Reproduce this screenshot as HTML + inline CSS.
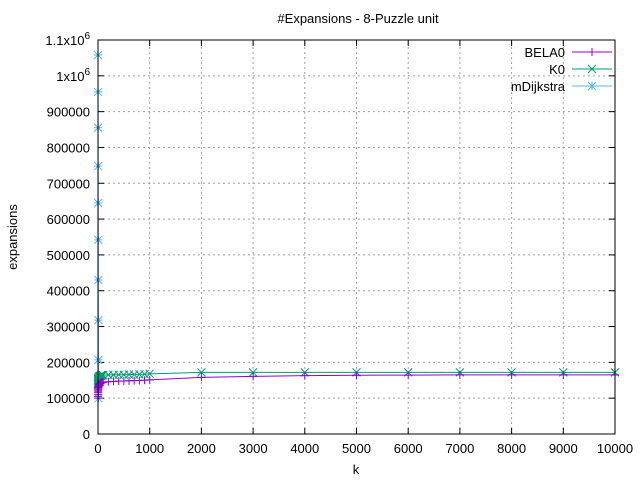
<!DOCTYPE html>
<html><head><meta charset="utf-8"><style>
body{margin:0;background:#fff;}
svg{font-family:"Liberation Sans",sans-serif;font-size:13px;}
</style></head><body>
<svg id="c" width="640" height="480"></svg>
<script>
const kVals=[0,1,2,3,4,5,6,7,8,9,10,20,30,40,50,60,70,80,90,100,200,300,400,500,600,700,800,900,1000,2000,3000,4000,5000,6000,7000,8000,9000,10000];
const bela0=[100000,105000,110000,115000,118000,122000,125000,128000,130000,132000,134000,138000,140000,141000,142000,143000,143500,144000,144500,145000,146000,147000,147500,148000,148500,149000,149500,150000,151000,158000,161000,163000,164000,164500,165000,165000,165000,165000];
const k0=[138000,140000,142000,145000,148000,150000,152000,154000,155000,156000,157000,160000,161000,162000,162500,163000,163500,164000,164000,164500,165000,165000,165500,165500,166000,166000,166500,167000,168000,172000,172000,172000,172000,172000,172000,172000,172000,172000];
const mdK=[0,1,2,3,4,5,6,7,8,9];
const mdVals=[1058000,955000,855000,748000,645000,542000,430000,318000,207000,100000];
const yTicks=[0,100000,200000,300000,400000,500000,600000,700000,800000,900000,1000000,1100000];
const xTicks=[0,1000,2000,3000,4000,5000,6000,7000,8000,9000,10000];
const X0=98,X1=615,Y0=434,Y1=40;
const sx=v=>X0+(v-0)/10000*(X1-X0);
const sy=v=>Y0-v/1100000*(Y0-Y1);
const svg=document.getElementById('c');
const NS='http://www.w3.org/2000/svg';
function mk(t,a,p){const e=document.createElementNS(NS,t);for(const k in a)e.setAttribute(k,a[k]);(p||svg).appendChild(e);return e;}
yTicks.forEach(v=>{const y=sy(v);
 if(v>0){const g=mk('line',{x1:X0,x2:X1,y1:y,y2:y,stroke:'#a0a0a0','stroke-dasharray':'2,3'});
 
 }
 const t=mk('text',{x:X0-8,y:y+5,'text-anchor':'end'});
 
 
 if(v===1000000){t.innerHTML='1x10<tspan dy="-6" font-size="10">6</tspan>';}
 else if(v===1100000){t.innerHTML='1.1x10<tspan dy="-6" font-size="10">6</tspan>';}
 else t.textContent=v;
 mk('line',{x1:X0,x2:X0+6,y1:y,y2:y,stroke:'#000'});mk('line',{x1:X1,x2:X1-6,y1:y,y2:y,stroke:'#000'});
});
xTicks.forEach(v=>{const x=sx(v);
 if(v>0&&v<10000){const g=mk('line',{x1:x,x2:x,y1:Y0,y2:Y1,stroke:'#a0a0a0','stroke-dasharray':'2,3'});
 
 }
 const t=mk('text',{x:x,y:Y0+19,'text-anchor':'middle'});t.textContent=v;
 
 
 mk('line',{x1:x,x2:x,y1:Y0,y2:Y0-6,stroke:'#000'});mk('line',{x1:x,x2:x,y1:Y1,y2:Y1+6,stroke:'#000'});
});
function marker(type,x,y,col,g){
 const s=4;
 if(type==='plus'){mk('path',{d:`M${x-s},${y}H${x+s}M${x},${y-s}V${y+s}`,stroke:col},g);}
 else if(type==='x'){mk('path',{d:`M${x-s},${y-s}L${x+s},${y+s}M${x-s},${y+s}L${x+s},${y-s}`,stroke:col},g);}
 else {mk('path',{d:`M${x-s},${y}H${x+s}M${x},${y-s}V${y+s}M${x-s},${y-s}L${x+s},${y+s}M${x-s},${y+s}L${x+s},${y-s}`,stroke:col},g);}
}
function series(name,xs,ys,col,type){
 const g=mk('g',{});
 
 
 mk('polyline',{points:xs.map((k,i)=>sx(k)+','+sy(ys[i])).join(' '),fill:'none',stroke:col},g);
 xs.forEach((k,i)=>marker(type,sx(k),sy(ys[i]),col,g));
}
series('series-mdijkstra',mdK,mdVals,'#56b4e9','star');
series('series-k0',kVals,k0,'#009e73','x');
series('series-bela0',kVals,bela0,'#9400d3','plus');
const fr=mk('rect',{x:X0,y:Y1,width:X1-X0,height:Y0-Y1,fill:'none',stroke:'#000'});


const leg=[['BELA0','#9400d3','plus'],['K0','#009e73','x'],['mDijkstra','#56b4e9','star']];
leg.forEach((l,i)=>{const y=52+i*17;const g=mk('g',{});
 
 
 const t=mk('text',{x:565,y:y+5,'text-anchor':'end'},g);t.textContent=l[0];
 mk('line',{x1:572,x2:612,y1:y,y2:y,stroke:l[1]},g);marker(l[2],592,y,l[1],g);});
const ti=mk('text',{x:358,y:23,'text-anchor':'middle'});ti.textContent='#Expansions - 8-Puzzle unit';


const xl=mk('text',{x:356,y:474,'text-anchor':'middle'});xl.textContent='k';


const yl=mk('text',{x:17,y:237,'text-anchor':'middle',transform:'rotate(-90 17 237)'});yl.textContent='expansions';


</script>
</body></html>
